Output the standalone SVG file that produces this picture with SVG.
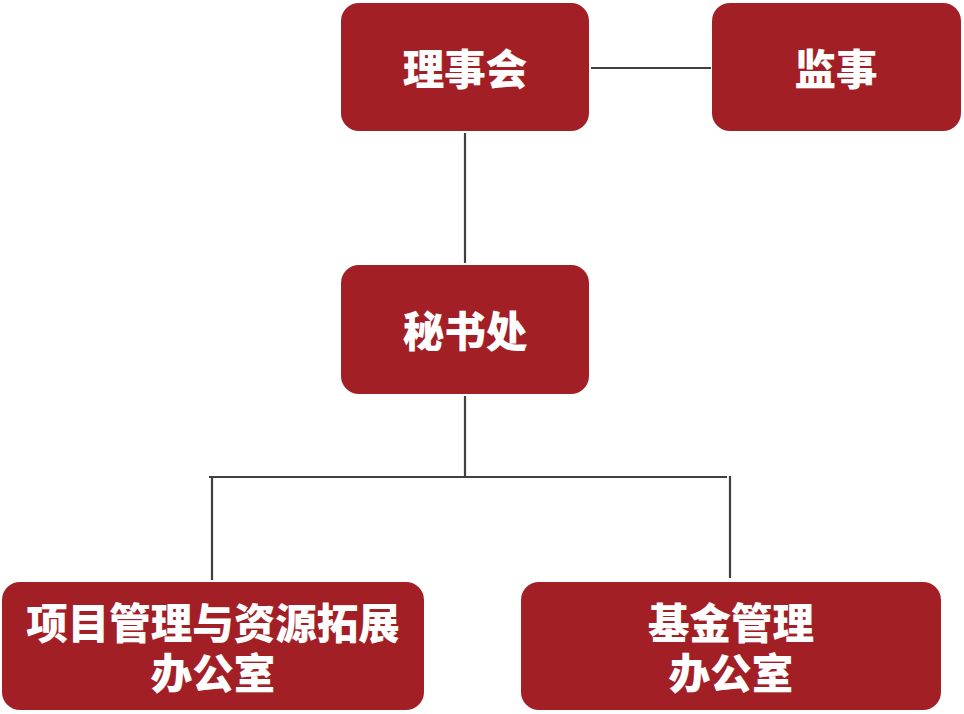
<svg xmlns="http://www.w3.org/2000/svg" width="964" height="714" viewBox="0 0 964 714">
<style>
.box{fill:#A31F26;}
.t{fill:#fff;font-family:"Noto Sans CJK SC","Liberation Sans",sans-serif;font-weight:900;font-size:41.5px;text-anchor:middle;dominant-baseline:central;}
.c{stroke:#404040;stroke-width:2.2;fill:none;}
</style>
<rect width="964" height="714" fill="#fff"/>
<g id="connectors">
<line class="c" x1="591" y1="68" x2="711" y2="68"/>
<line class="c" x1="465" y1="133" x2="465" y2="263"/>
<line class="c" x1="465" y1="396" x2="465" y2="477"/>
<line class="c" x1="209" y1="477" x2="727" y2="477"/>
<line class="c" x1="212" y1="477" x2="212" y2="580"/>
<line class="c" x1="730" y1="476" x2="730" y2="578"/>
</g>
<g id="lishihui"><rect class="box" x="341" y="3" width="248" height="128" rx="18"/><text class="t" x="465" y="67">理事会</text></g>
<g id="jianshi"><rect class="box" x="712" y="3" width="249" height="128" rx="18"/><text class="t" x="836" y="67">监事</text></g>
<g id="mishuchu"><rect class="box" x="341" y="265" width="248" height="129" rx="18"/><text class="t" x="465" y="329">秘书处</text></g>
<g id="xiangmu"><rect class="box" x="2" y="582" width="422" height="128" rx="18"/><text class="t" x="213" y="621">项目管理与资源拓展</text><text class="t" x="213" y="671">办公室</text></g>
<g id="jijin"><rect class="box" x="521" y="582" width="420" height="128" rx="18"/><text class="t" x="731" y="621">基金管理</text><text class="t" x="731" y="671">办公室</text></g>
</svg>
